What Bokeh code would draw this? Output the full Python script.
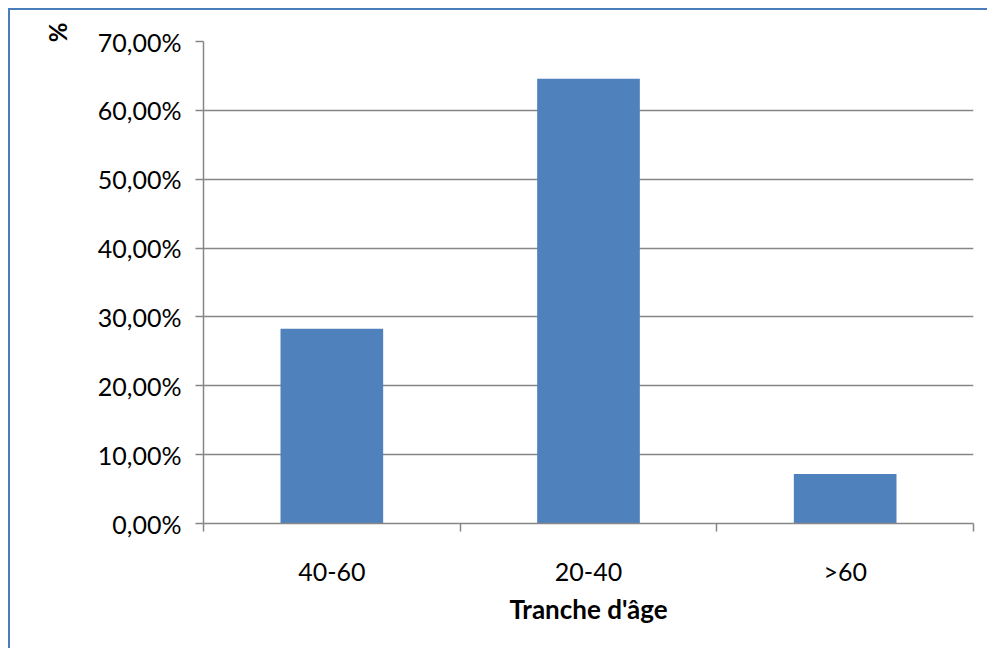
from bokeh.plotting import figure
from bokeh.models import (Range1d, LinearAxis, FixedTicker, CustomJSTickFormatter, Title,
                          ColumnDataSource)
from bokeh.embed import file_html
from bokeh.resources import INLINE

categories = ["40-60", "20-40", ">60"]
percentages = [28.3, 64.6, 7.2]
y_ticks = [0, 10, 20, 30, 40, 50, 60, 70]
x_title = "Tranche d'âge"
y_title = "%"

GRID = "#868686"
BAR = "#4f81bd"
FONT = "Lato"

n = len(categories)
centers = [i + 0.5 for i in range(n)]
src = ColumnDataSource(dict(x=centers, val=percentages))

p = figure(x_range=Range1d(0, n), y_range=Range1d(0, 70),
           width=979, height=640, output_backend="svg", toolbar_location=None,
           x_axis_location=None, y_axis_location="left",
           min_border_left=193, min_border_right=16, min_border_top=31, min_border_bottom=127)
p.styles = {"margin-top": "8px", "margin-left": "8px",
            "border-top": "2px solid #4a7ebb", "border-left": "2px solid #4a7ebb"}
p.outline_line_color = None
p.background_fill_color = "white"
p.border_fill_color = "white"

p.vbar(x="x", top="val", width=0.4, source=src, fill_color=BAR, line_color=None)

# y axis
ya = p.yaxis[0]
ya.ticker = FixedTicker(ticks=y_ticks)
ya.formatter = CustomJSTickFormatter(code="return tick.toFixed(2).replace('.', ',') + '%';")
ya.axis_line_color = GRID
ya.axis_line_width = 1.5
ya.major_tick_line_color = GRID
ya.major_tick_line_width = 1.5
ya.major_tick_out = 8
ya.major_tick_in = 0
ya.minor_tick_line_color = None
ya.major_label_text_font = FONT
ya.major_label_text_font_size = "25px"
ya.major_label_text_color = "black"
ya.major_label_standoff = 14

p.ygrid.grid_line_color = GRID
p.ygrid.grid_line_width = 1.5
p.ygrid.ticker = FixedTicker(ticks=y_ticks)
p.xgrid.grid_line_color = None

# y title "%" at the top left, rotated
p.add_layout(Title(text=y_title, align="right", offset=-19, standoff=46,
                   text_font=FONT, text_font_size="24px", text_font_style="bold",
                   text_color="black"), "left")

# x axis: boundary ticks (no labels)
edges = list(range(n + 1))
edge_axis = LinearAxis(ticker=FixedTicker(ticks=edges),
                       major_label_overrides={e: "" for e in edges},
                       major_label_text_font_size="1px", major_label_standoff=0,
                       axis_line_color=GRID, axis_line_width=1.5,
                       major_tick_line_color=GRID, major_tick_line_width=1.5,
                       major_tick_out=8, major_tick_in=0, minor_tick_line_color=None)
p.add_layout(edge_axis, "below")

# x axis: category labels
cat_axis = LinearAxis(ticker=FixedTicker(ticks=centers),
                      major_label_overrides={c: lab for c, lab in zip(centers, categories)},
                      axis_line_color=None, major_tick_line_color=None,
                      major_tick_out=0, major_tick_in=0, minor_tick_line_color=None,
                      major_label_text_font=FONT, major_label_text_font_size="25px",
                      major_label_text_color="black", major_label_standoff=24)
p.add_layout(cat_axis, "below")

p.add_layout(Title(text=x_title, align="center", standoff=5,
                   text_font=FONT, text_font_size="26px", text_font_style="bold",
                   text_color="black"), "below")

open("out.html", "w").write(file_html(p, INLINE))
